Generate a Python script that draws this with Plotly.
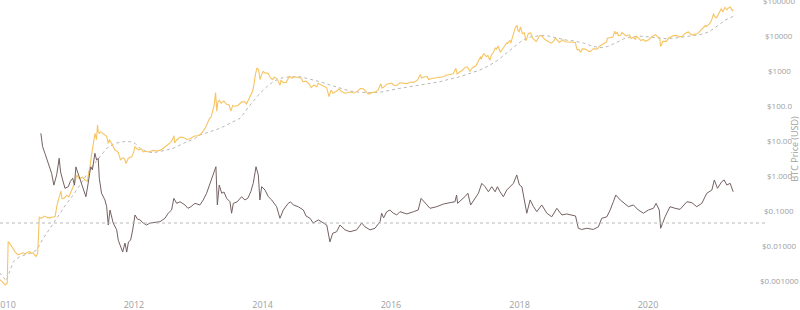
import math
import plotly.graph_objects as go

# ---------------- data ----------------
PRICE_DATES = [
"2009-11-28","2009-12-31","2010-01-11","2010-01-16","2010-01-26","2010-02-10","2010-02-24","2010-03-13","2010-03-28","2010-04-10",
"2010-04-22","2010-05-03","2010-05-20","2010-05-28","2010-06-06","2010-06-23","2010-07-03","2010-07-12","2010-07-25","2010-08-10",
"2010-08-25","2010-09-10","2010-09-28","2010-10-10","2010-10-21","2010-11-07","2010-11-12","2010-11-18","2010-12-01","2010-12-15",
"2010-12-28","2011-01-12","2011-01-31","2011-02-10","2011-02-20","2011-02-28","2011-03-15","2011-03-29","2011-04-11","2011-04-18",
"2011-04-26","2011-05-06","2011-05-15","2011-05-25","2011-06-02","2011-06-08","2011-06-12","2011-06-18","2011-06-26","2011-07-11",
"2011-07-30","2011-08-08","2011-08-15","2011-08-28","2011-09-15","2011-09-25","2011-10-04","2011-10-17","2011-10-25","2011-11-02",
"2011-11-10","2011-11-17","2011-11-30","2011-12-19","2011-12-31","2012-01-07","2012-01-16","2012-01-29","2012-02-10","2012-02-23",
"2012-03-10","2012-03-22","2012-04-05","2012-04-20","2012-05-10","2012-05-28","2012-06-16","2012-06-30","2012-07-14","2012-07-28",
"2012-08-08","2012-08-16","2012-08-19","2012-08-31","2012-09-18","2012-09-28","2012-10-15","2012-10-27","2012-11-15","2012-11-28",
"2012-12-10","2012-12-24","2013-01-10","2013-01-25","2013-02-07","2013-02-20","2013-03-05","2013-03-15","2013-03-24","2013-04-01",
"2013-04-09","2013-04-12","2013-04-16","2013-04-22","2013-04-30","2013-05-10","2013-05-26","2013-06-11","2013-06-25","2013-07-05",
"2013-07-15","2013-07-28","2013-08-15","2013-09-04","2013-09-23","2013-10-02","2013-10-15","2013-10-25","2013-11-06","2013-11-12",
"2013-11-18","2013-11-22","2013-11-30","2013-12-04","2013-12-10","2013-12-18","2013-12-23","2014-01-05","2014-01-15","2014-02-03",
"2014-02-12","2014-02-25","2014-03-10","2014-03-25","2014-04-10","2014-04-16","2014-04-29","2014-05-15","2014-06-03","2014-06-17",
"2014-07-03","2014-07-23","2014-08-10","2014-08-18","2014-09-05","2014-09-22","2014-10-05","2014-10-20","2014-11-05","2014-11-14",
"2014-11-30","2014-12-15","2014-12-31","2015-01-14","2015-01-26","2015-02-05","2015-02-27","2015-03-12","2015-03-25","2015-04-15",
"2015-05-13","2015-06-05","2015-06-20","2015-07-11","2015-07-28","2015-08-18","2015-08-25","2015-09-15","2015-10-02","2015-10-20",
"2015-11-04","2015-11-11","2015-11-20","2015-12-08","2015-12-26","2016-01-05","2016-01-15","2016-02-03","2016-02-21","2016-03-15",
"2016-03-31","2016-04-25","2016-05-10","2016-05-31","2016-06-16","2016-06-23","2016-07-10","2016-07-25","2016-08-02","2016-08-20",
"2016-09-15","2016-10-05","2016-10-25","2016-11-10","2016-11-30","2016-12-20","2017-01-04","2017-01-11","2017-01-25","2017-02-10",
"2017-02-24","2017-03-10","2017-03-24","2017-04-10","2017-04-28","2017-05-12","2017-05-25","2017-05-27","2017-06-11","2017-06-26",
"2017-07-05","2017-07-16","2017-07-25","2017-08-05","2017-08-17","2017-08-22","2017-09-01","2017-09-14","2017-09-25","2017-10-12",
"2017-10-20","2017-10-26","2017-11-07","2017-11-12","2017-11-20","2017-11-29","2017-12-07","2017-12-17","2017-12-22","2017-12-30",
"2018-01-06","2018-01-17","2018-01-28","2018-02-06","2018-02-20","2018-03-05","2018-03-18","2018-04-06","2018-04-24","2018-05-05",
"2018-05-25","2018-06-15","2018-06-29","2018-07-10","2018-07-25","2018-08-14","2018-09-05","2018-09-15","2018-10-11","2018-10-30",
"2018-11-14","2018-11-20","2018-11-25","2018-12-04","2018-12-15","2018-12-24","2019-01-09","2019-01-28","2019-02-07","2019-02-24",
"2019-03-20","2019-04-02","2019-04-23","2019-05-11","2019-05-15","2019-05-30","2019-06-15","2019-06-26","2019-07-02","2019-07-10",
"2019-07-17","2019-07-31","2019-08-06","2019-08-29","2019-09-18","2019-09-26","2019-10-10","2019-10-23","2019-10-26","2019-11-22",
"2019-12-05","2019-12-18","2020-01-05","2020-01-19","2020-02-12","2020-02-28","2020-03-08","2020-03-12","2020-03-16","2020-03-25",
"2020-04-15","2020-04-30","2020-05-10","2020-05-20","2020-06-10","2020-06-27","2020-07-15","2020-07-27","2020-08-17","2020-09-05",
"2020-09-25","2020-10-08","2020-10-21","2020-11-05","2020-11-24","2020-11-26","2020-12-16","2020-12-27","2021-01-02","2021-01-08",
"2021-01-11","2021-01-22","2021-01-29","2021-02-09","2021-02-21","2021-02-28","2021-03-13","2021-03-25","2021-04-01","2021-04-13",
"2021-04-25","2021-04-29",
]
PRICE_USD = [
0.0011,0.00076,0.00087,0.0130,0.0115,0.0085,0.0067,0.0055,0.0060,0.0063,
0.0058,0.0064,0.0068,0.0060,0.0063,0.0049,0.0060,0.065,0.060,0.070,
0.064,0.062,0.066,0.068,0.145,0.27,0.36,0.22,0.23,0.27,
0.25,0.38,0.66,1.03,0.85,0.83,0.89,0.74,0.68,1.10,
1.77,4.2,8.2,15.8,10.5,27.6,18.0,16.0,17.5,15.0,
13.0,8.2,10.5,8.0,5.3,5.0,4.5,2.75,3.1,3.2,
2.9,2.2,3.1,3.4,4.7,6.6,5.9,5.4,5.8,4.7,
4.9,4.7,4.9,5.2,5.0,5.2,6.0,6.7,7.7,8.8,
11.0,13.5,8.5,10.3,12.3,12.4,11.8,10.6,11.1,12.5,
13.3,13.4,14.5,17.5,21.5,29.5,42.0,47.0,71.0,100.0,
230.0,110.0,68.0,125.0,139.0,115.0,132.0,107.0,102.0,68.0,
98.0,94.0,99.0,126.0,125.0,110.0,145.0,190.0,255.0,360.0,
700.0,770.0,1130.0,1150.0,980.0,540.0,670.0,930.0,840.0,810.0,
650.0,540.0,630.0,570.0,370.0,520.0,440.0,450.0,670.0,600.0,
650.0,620.0,590.0,470.0,490.0,410.0,320.0,380.0,340.0,420.0,
380.0,345.0,320.0,178.0,275.0,220.0,255.0,295.0,246.0,220.0,
240.0,225.0,245.0,300.0,295.0,225.0,210.0,230.0,237.0,270.0,
410.0,310.0,325.0,400.0,420.0,432.0,375.0,370.0,440.0,415.0,
416.0,460.0,450.0,530.0,750.0,600.0,650.0,655.0,545.0,580.0,
610.0,612.0,650.0,715.0,740.0,790.0,1130.0,780.0,890.0,1000.0,
1180.0,1250.0,930.0,1200.0,1340.0,1750.0,2450.0,2050.0,2950.0,2450.0,
2600.0,1920.0,2750.0,3200.0,4350.0,3990.0,4900.0,3250.0,3900.0,5450.0,
6000.0,5800.0,7150.0,5950.0,8200.0,9900.0,16000.0,19200.0,13800.0,12600.0,
17100.0,11000.0,11700.0,6900.0,11200.0,11500.0,7900.0,6600.0,9600.0,9700.0,
7500.0,6500.0,5900.0,6400.0,8200.0,6200.0,7400.0,6500.0,6250.0,6300.0,
6200.0,4500.0,3800.0,3900.0,3200.0,4050.0,4000.0,3500.0,3400.0,4100.0,
4050.0,4900.0,5500.0,6400.0,8200.0,8650.0,8800.0,12900.0,10600.0,12300.0,
9500.0,10100.0,11900.0,9500.0,10200.0,8100.0,8600.0,7500.0,9500.0,7000.0,
7500.0,6640.0,7400.0,8700.0,10350.0,8700.0,8000.0,4900.0,5000.0,6700.0,
6650.0,8650.0,8700.0,9500.0,9800.0,9000.0,9200.0,11000.0,12300.0,10200.0,
10700.0,10900.0,12800.0,15500.0,19100.0,17100.0,21300.0,26300.0,32200.0,40600.0,
35500.0,31000.0,34300.0,46400.0,57500.0,45200.0,61200.0,52300.0,59000.0,63500.0,
49000.0,53500.0,
]

MA_DATES = [
"2009-11-28","2010-01-05","2010-02-14","2010-03-24","2010-05-20","2010-06-27","2010-08-04","2010-09-30","2010-11-07","2010-12-15",
"2011-01-21","2011-02-28","2011-04-07","2011-05-15","2011-06-22","2011-07-30","2011-09-15","2011-11-02","2011-12-10","2012-01-07",
"2012-02-04","2012-03-13","2012-04-20","2012-05-28","2012-07-05","2012-08-12","2012-09-19","2012-10-27","2012-12-04","2013-01-10",
"2013-03-08","2013-05-04","2013-06-30","2013-08-26","2013-10-22","2013-12-17","2014-01-25","2014-03-03","2014-04-10","2014-06-06",
"2014-08-02","2014-09-09","2014-11-24","2015-01-20","2015-03-17","2015-05-13","2015-07-09","2015-09-03","2015-10-30","2015-12-26",
"2016-02-21","2016-04-18","2016-06-14","2016-08-09","2016-10-05","2016-12-01","2017-01-28","2017-03-26","2017-05-21","2017-07-17",
"2017-09-01","2017-10-01","2017-11-01","2017-12-01","2018-01-01","2018-02-01","2018-03-01","2018-04-01","2018-05-01","2018-06-01",
"2018-07-01","2018-08-01","2018-09-01","2018-10-01","2018-11-01","2018-12-01","2019-01-01","2019-02-01","2019-03-01","2019-04-10",
"2019-05-15","2019-06-15","2019-07-15","2019-08-15","2019-09-15","2019-10-15","2019-11-15","2019-12-15","2020-01-15","2020-02-15",
"2020-03-15","2020-04-15","2020-05-15","2020-06-15","2020-07-15","2020-08-15","2020-09-15","2020-10-15","2020-11-15","2020-12-15",
"2021-01-15","2021-02-15","2021-03-15","2021-04-29",
]
MA_USD = [
0.0017,0.0010,0.0035,0.0049,0.0061,0.0075,0.0163,0.0435,0.084,0.161,
0.278,0.536,1.03,1.99,3.43,5.96,8.26,9.18,9.18,8.26,
5.96,4.77,4.46,4.77,5.32,5.96,7.39,9.18,10.7,14.3,
17.7,22.1,30.7,42.6,102.0,220.0,339.0,470.0,588.0,653.0,
653.0,588.0,470.0,379.0,305.0,255.0,235.0,229.0,235.0,273.0,
305.0,339.0,379.0,423.0,470.0,561.0,653.0,816.0,1014.0,1407.0,
1955.0,2600.0,3400.0,4600.0,6200.0,7700.0,8800.0,9300.0,9700.0,9700.0,
9000.0,8000.0,7600.0,7100.0,6900.0,6500.0,5900.0,5200.0,4700.0,4400.0,
4700.0,5500.0,6700.0,7800.0,8700.0,9200.0,9300.0,9100.0,8700.0,8500.0,
8200.0,7900.0,8000.0,8300.0,8600.0,9100.0,9700.0,10200.0,11000.0,12600.0,
16000.0,21000.0,27000.0,34000.0,
]

RATIO_DATES = [
"2010-07-21","2010-07-31","2010-08-13","2010-09-01","2010-09-20","2010-10-03","2010-10-19","2010-11-02","2010-11-10","2010-11-22",
"2010-12-05","2010-12-24","2011-01-05","2011-01-18","2011-01-28","2011-02-05","2011-02-18","2011-03-04","2011-03-19","2011-04-03",
"2011-04-16","2011-04-30","2011-05-10","2011-05-24","2011-06-03","2011-06-12","2011-06-18","2011-07-01","2011-07-20","2011-07-30",
"2011-08-08","2011-08-18","2011-09-05","2011-09-25","2011-10-04","2011-10-17","2011-10-29","2011-11-11","2011-11-21","2011-12-01",
"2011-12-13","2011-12-25","2012-01-07","2012-01-21","2012-02-04","2012-02-23","2012-03-13","2012-04-01","2012-04-30","2012-05-28",
"2012-06-25","2012-07-14","2012-08-02","2012-08-15","2012-08-31","2012-09-19","2012-10-17","2012-11-03","2012-11-20","2012-12-13",
"2013-01-10","2013-01-29","2013-02-17","2013-03-08","2013-03-27","2013-04-11","2013-04-19","2013-04-30","2013-05-14","2013-05-27",
"2013-06-11","2013-06-30","2013-07-09","2013-07-19","2013-08-09","2013-09-04","2013-09-23","2013-10-10","2013-10-26","2013-11-09",
"2013-11-25","2013-12-08","2013-12-17","2013-12-27","2014-01-15","2014-02-03","2014-02-22","2014-03-22","2014-04-10","2014-04-29",
"2014-05-27","2014-06-09","2014-06-25","2014-07-23","2014-08-21","2014-09-05","2014-09-28","2014-10-16","2014-11-14","2014-12-12",
"2015-01-01","2015-01-19","2015-02-04","2015-02-26","2015-03-17","2015-04-15","2015-05-13","2015-06-20","2015-07-19","2015-08-06",
"2015-09-04","2015-10-02","2015-10-31","2015-11-09","2015-11-20","2015-12-08","2015-12-26","2016-01-13","2016-02-03","2016-02-21",
"2016-03-31","2016-05-08","2016-06-04","2016-06-20","2016-07-13","2016-08-10","2016-09-17","2016-10-25","2016-12-02","2016-12-30",
"2017-01-08","2017-01-14","2017-02-24","2017-03-13","2017-03-29","2017-04-23","2017-05-12","2017-05-31","2017-06-19","2017-07-08",
"2017-07-27","2017-08-15","2017-08-28","2017-09-12","2017-10-01","2017-10-20","2017-11-08","2017-11-27","2017-12-16","2017-12-31",
"2018-01-14","2018-02-11","2018-03-02","2018-03-21","2018-04-09","2018-05-07","2018-06-05","2018-07-03","2018-08-01","2018-08-29",
"2018-09-26","2018-10-21","2018-11-15","2018-12-01","2018-12-20","2019-01-18","2019-02-24","2019-03-25","2019-04-13","2019-05-12",
"2019-05-31","2019-06-18","2019-07-02","2019-07-27","2019-08-18","2019-09-12","2019-10-10","2019-11-07","2019-12-06","2020-01-03",
"2020-02-01","2020-02-16","2020-03-05","2020-03-13","2020-04-07","2020-05-05","2020-06-03","2020-07-01","2020-08-09","2020-09-06",
"2020-10-04","2020-11-02","2020-11-30","2020-12-29","2021-01-12","2021-01-30","2021-02-23","2021-03-09","2021-03-24","2021-04-12",
"2021-04-29",
]
RATIO_VALUES = [
15.7,10.4,8.5,6.25,4.6,3.2,4.4,7.3,4.8,3.75,
2.9,3.05,3.6,3.95,3.2,5.6,4.6,3.75,2.9,2.24,
3.4,5.6,5.1,8.5,6.9,7.3,3.95,2.49,2.03,1.65,
0.94,1.49,1.0,0.81,0.59,0.48,0.41,0.54,0.41,0.56,
0.59,0.81,1.28,1.13,1.10,1.0,0.94,1.0,1.01,1.04,
1.155,1.35,1.49,2.13,1.83,1.92,1.74,1.57,1.65,1.83,
1.74,2.03,2.49,3.38,4.37,5.63,1.74,3.21,2.49,2.59,
2.13,1.92,1.35,1.83,1.91,2.24,2.03,2.15,2.61,3.38,
5.63,4.37,2.03,3.05,2.75,2.24,2.03,1.65,1.155,1.49,
1.83,1.91,1.74,1.65,1.49,1.24,1.155,1.0,1.10,1.0,
0.94,0.56,0.73,0.765,0.94,0.81,0.765,0.81,1.0,0.89,
0.81,0.85,1.04,1.35,1.17,1.415,1.49,1.36,1.28,1.415,
1.32,1.415,1.49,2.13,1.83,1.57,1.65,1.79,1.87,1.92,
2.36,1.83,2.24,2.49,1.74,2.13,2.49,3.38,3.05,2.61,
3.05,2.61,3.05,2.61,2.24,2.75,3.05,3.38,4.37,3.21,
3.05,1.35,2.03,1.65,1.415,1.74,1.35,1.21,1.57,1.28,
1.32,1.28,1.24,0.85,0.82,0.85,0.82,0.89,1.155,1.21,
1.49,1.92,2.36,2.03,1.85,1.65,1.74,1.49,1.35,1.49,
1.57,1.83,1.49,0.85,1.21,1.65,1.57,1.52,1.92,1.87,
1.65,1.83,2.49,2.75,3.75,2.9,3.55,3.75,3.21,3.38,
2.61,
]
THRESHOLD = 1.0

PRICE_TICKS = [0.001, 0.01, 0.1, 1, 10, 100, 1000, 10000, 100000]
PRICE_TICK_LABELS = ["$0.001000", "$0.01000", "$0.1000", "$1.000", "$10.00",
                     "$100.0", "$1000", "$10000", "$100000"]
X_RANGE = ["2009-11-30 17:00", "2021-10-27"]

# ---------------- figure ----------------
PLOT_H = 298      # plot area height in px (310 - bottom margin)
PLOT_W = 765      # plot area width in px (800 - right margin)
LABEL_FONT = dict(family="Open Sans", size=8, color="#a0a0a0")

fig = go.Figure()
fig.add_trace(go.Scatter(x=MA_DATES, y=MA_USD, mode="lines", yaxis="y",
                         line=dict(color="#b8b8b8", width=1, dash="3px,3px"),
                         hoverinfo="skip"))
fig.add_trace(go.Scatter(x=PRICE_DATES, y=PRICE_USD, mode="lines", yaxis="y",
                         line=dict(color="#f7c462", width=1.1)))
fig.add_trace(go.Scatter(x=RATIO_DATES, y=RATIO_VALUES, mode="lines", yaxis="y2",
                         line=dict(color="#756161", width=1)))

fig.add_shape(type="line", xref="paper", x0=0, x1=1, yref="y2",
              y0=THRESHOLD, y1=THRESHOLD,
              line=dict(color="#b8b8b8", width=1, dash="3px,3px"))

# price-axis labels, centred in the right-hand gutter (placed on the y scale)
for val, lab in zip(PRICE_TICKS, PRICE_TICK_LABELS):
    fig.add_annotation(text=lab, xref="paper", yref="y", x=779 / PLOT_W,
                       y=math.log10(val), xanchor="center",
                       yanchor="middle", showarrow=False, font=LABEL_FONT)

fig.add_annotation(text="BTC Price (USD)", xref="paper", yref="paper",
                   x=793.5 / PLOT_W, y=0.5, xanchor="center", yanchor="middle",
                   textangle=-90, showarrow=False,
                   font=dict(family="Open Sans", size=9, color="#a0a0a0"))

fig.update_layout(
    width=800, height=310,
    margin=dict(l=0, r=800 - PLOT_W, t=0, b=310 - PLOT_H),
    paper_bgcolor="white", plot_bgcolor="white",
    showlegend=False,
    font=dict(family="Open Sans", color="#a0a0a0"),
    xaxis=dict(type="date", range=X_RANGE, tick0="2010-01-01", dtick="M24",
               tickformat="%Y", showgrid=False, zeroline=False, showline=False,
               ticks="", automargin=False, ticklabeloverflow="allow",
               tickfont=dict(family="Open Sans", size=9, color="#a0a0a0")),
    yaxis=dict(type="log", side="right", range=[5 - PLOT_H / 35.1, 5.0005],
               tickvals=PRICE_TICKS, showticklabels=False,
               showgrid=False, zeroline=False, showline=False, ticks="",
               automargin=False),
    yaxis2=dict(type="log", overlaying="y", visible=False,
                range=[-(PLOT_H - 223) / 75, 223 / 75]),
)

fig.write_html("out.html")
